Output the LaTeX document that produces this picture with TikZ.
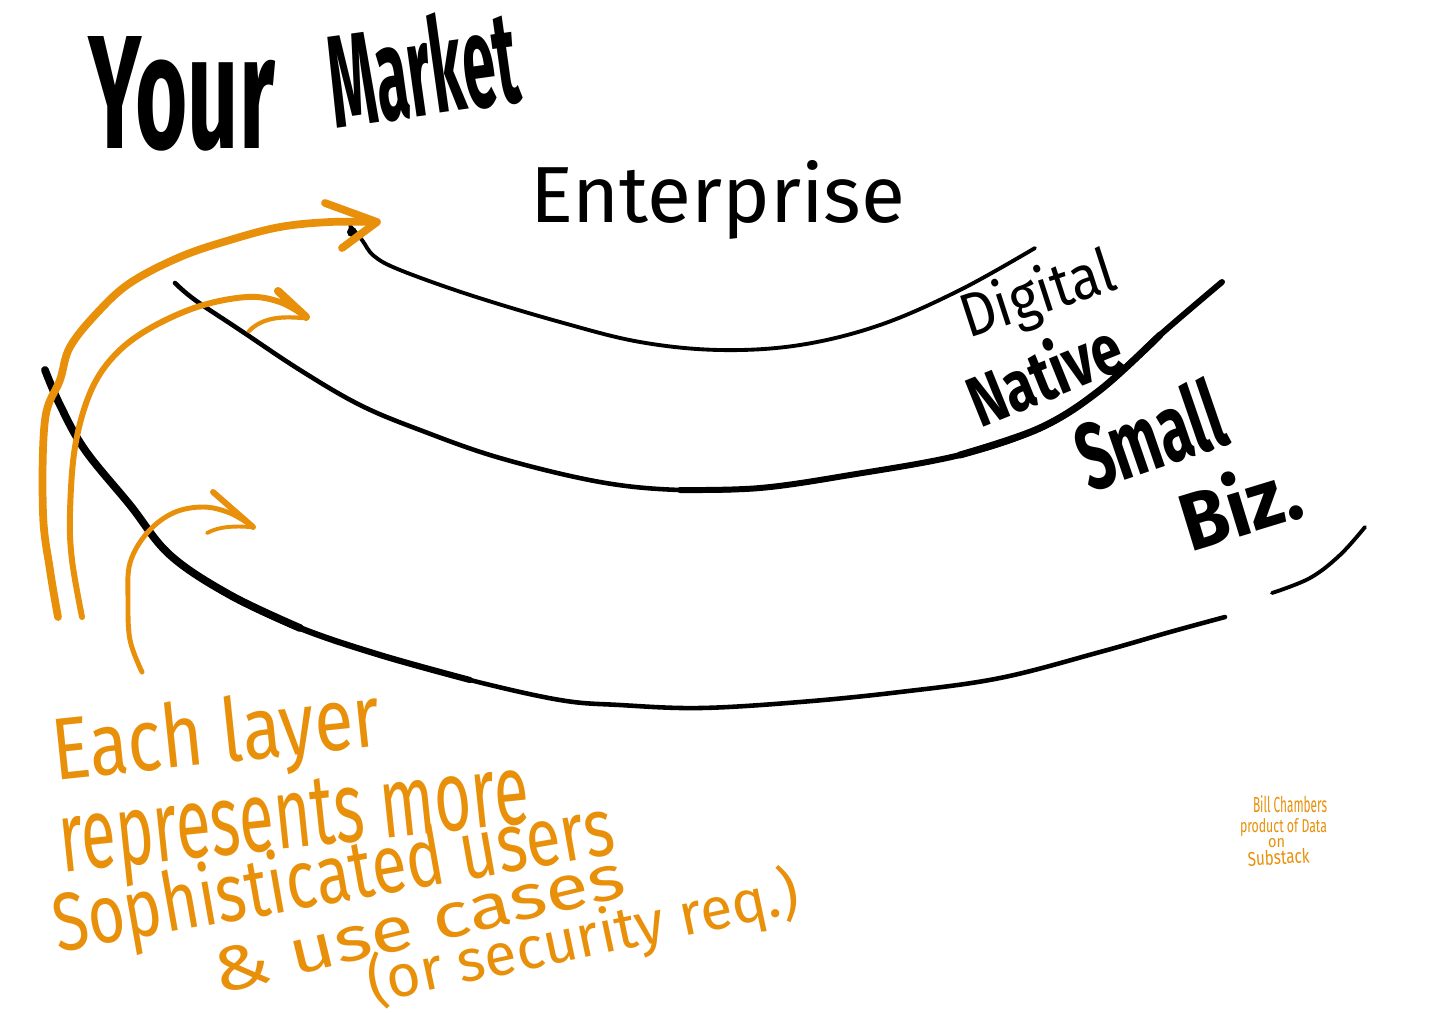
\documentclass[tikz,border=0pt]{standalone}
\usepackage{fontspec}
\setmainfont{Fira Sans}
\usepackage{graphicx}
\newlength{\px}\setlength{\px}{0.02cm}
\newcommand{\fitbox}[3]{\resizebox{#1\px}{#2\px}{#3}}
\definecolor{org}{RGB}{232,144,10}
\tikzset{
  blk/.style={draw=black, line cap=round, line join=round},
  orng/.style={draw=org, line cap=round, line join=round},
  hand/.style={inner sep=0pt, outer sep=0pt, anchor=base west},
}
\begin{document}
\begin{tikzpicture}[x=0.02cm,y=-0.02cm]
\useasboundingbox[fill=white] (0,0) rectangle (1456,1012);

% ---------- black layer curves ----------
\draw[blk, line width=2.2pt] plot[smooth, tension=0.6] coordinates {
  (350,226) (362,240) (374,256) (400,270) (470,295) (560,322) (640,342)
  (720,350) (800,345) (880,325) (960,290) (1035,248)};
\fill (352,232) circle (5);

\draw[blk, line width=2.6pt] plot[smooth, tension=0.6] coordinates {
  (175,283) (195,300) (240,330) (300,370) (360,405) (420,430) (500,458)
  (600,482) (680,490) (760,488) (850,475) (960,455) (1040,428) (1100,390)
  (1160,335) (1222,282)};
\draw[blk, line width=3.4pt] plot[smooth, tension=0.6] coordinates {
  (680,490) (760,488) (850,475) (960,455) (1040,428) (1100,390) (1160,335) (1222,282)};
\draw[blk, line width=4.0pt] plot[smooth, tension=0.6] coordinates {
  (960,455) (1040,428) (1100,390) (1160,335)};

\draw[blk, line width=2.6pt] plot[smooth, tension=0.6] coordinates {
  (45,370) (60,405) (85,450) (130,505) (170,555) (230,595) (300,628)
  (380,655) (470,680) (560,700) (620,705) (700,708) (800,702) (900,692)
  (1000,678) (1100,652) (1170,632) (1225,617)};
\draw[blk, line width=3.5pt] plot[smooth, tension=0.6] coordinates {
  (45,370) (60,405) (85,450) (130,505) (170,555) (230,595) (300,628)
  (380,655) (470,680)};
\draw[blk, line width=4.4pt] plot[smooth, tension=0.6] coordinates {
  (45,370) (60,405) (85,450) (130,505) (170,555) (230,595) (300,628)};
\draw[blk, line width=2.2pt] plot[smooth, tension=0.6] coordinates {
  (1272,593) (1310,578) (1340,555) (1365,527)};

% ---------- orange arrows ----------
\draw[orng, line width=4.4pt] plot[smooth, tension=0.6] coordinates {
  (58,617) (50,570) (43,513) (45,420) (60,380) (70,347) (97,313) (130,283)
  (180,257) (230,240) (280,227) (330,222) (375,222)};
\draw[orng, line width=4.4pt] (325,203) -- (377,222) -- (342,248);

\draw[orng, line width=3.4pt] plot[smooth, tension=0.6] coordinates {
  (82,617) (72,560) (70,513) (75,447) (90,393) (113,357) (147,330)
  (197,307) (247,297) (280,302) (305,316)};
\draw[orng, line width=4.6pt] (278,291) -- (306,317);
\draw[orng, line width=2.4pt] (249,331) .. controls (262,318) and (280,316) .. (302,318);

\draw[orng, line width=2.8pt] plot[smooth, tension=0.6] coordinates {
  (142,672) (130,640) (128,600) (130,563) (147,533) (173,513) (203,507)
  (230,513) (252,526)};
\draw[orng, line width=3.4pt] (213,492) -- (253,527);
\draw[orng, line width=2.2pt] (207,533) .. controls (220,526) and (235,526) .. (250,527);

% ---------- black labels ----------
\node[hand] (your) at (88,148) {\fitbox{187}{112}{\bfseries Your}};
\node[hand, rotate=8] (market) at (335,128) {\fitbox{190}{100}{\bfseries Market}};
\node[hand] (ent) at (530,222) {\fitbox{375}{62}{\fontseries{m}\selectfont Enterprise}};
\node[hand, rotate=18] (dig) at (968,338) {\fitbox{160}{48}{Digital}};
\node[hand, rotate=22] (nat) at (980,428) {\fitbox{160}{58}{\bfseries Native}};
\node[hand, rotate=19] (small) at (1090,492) {\fitbox{150}{72}{\bfseries Small}};
\node[hand, rotate=17] (biz) at (1190,552) {\fitbox{122}{66}{\bfseries Biz.}};

% ---------- orange note ----------
\begin{scope}[text=org]
\node[hand, rotate=6] (l1) at (55,780) {\fitbox{330}{66}{Each layer}};
\node[hand, rotate=6] (l2) at (62,872) {\fitbox{472}{66}{represents more}};
\node[hand, rotate=10] (l3) at (58,952) {\fitbox{568}{64}{Sophisticated users}};
\node[hand, rotate=13.5] (l4) at (218,994) {\fitbox{422}{44}{\& use cases}};
\node[hand, rotate=12] (l5) at (372,1003) {\fitbox{440}{50}{(or security req.)}};

\node[hand] (s1) at (1253,812) {\fitbox{74}{17}{Bill Chambers}};
\node[hand] (s2) at (1240,832) {\fitbox{87}{14}{product of Data}};
\node[hand] (s3) at (1268,847) {\fitbox{17}{9}{on}};
\node[hand, rotate=3] (s4) at (1248,866) {\fitbox{62}{15}{Substack}};
\end{scope}
\end{tikzpicture}
\end{document}
